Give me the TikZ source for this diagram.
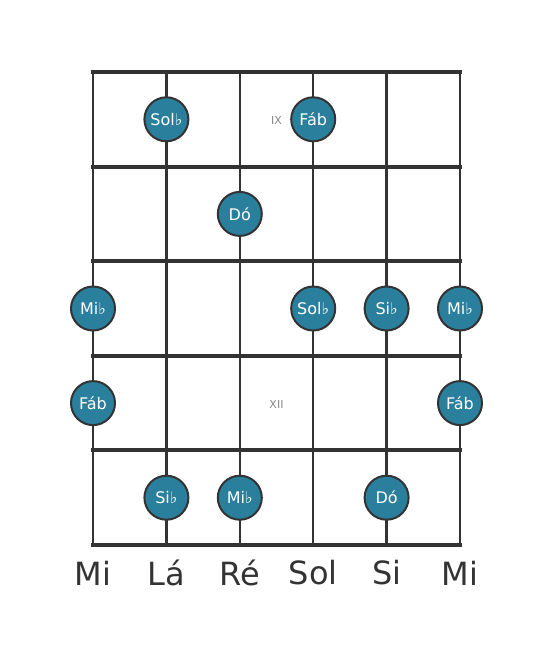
\documentclass[tikz,border=0pt]{standalone}
\usepackage{fontspec}
\setmainfont{DejaVu Sans}
\usepackage{xcolor}
\usetikzlibrary{positioning}
\definecolor{notefill}{HTML}{2A7F9C}
\definecolor{gridgray}{HTML}{333333}
\definecolor{markgray}{HTML}{888888}
\tikzset{
  note/.style={circle,fill=notefill,draw=gridgray,line width=2pt,minimum size=44pt,inner sep=0pt,
    text=white,font=\fontsize{16pt}{18pt}\selectfont},
  fretmark/.style={text=markgray,font=\fontsize{11pt}{13pt}\selectfont},
  strname/.style={text=gridgray,font=\fontsize{32pt}{36pt}\selectfont}
}
\begin{document}
\begin{tikzpicture}[x=1pt,y=-1pt]
  \useasboundingbox (0,0) rectangle (553,656);
  % strings
  \foreach \s in {0,...,5}{
    \draw[gridgray,line width=2.5pt] (93+\s*73.4,72) -- (93+\s*73.4,545);
  }
  % frets
  \foreach \f in {0,...,5}{
    \draw[gridgray,line width=4pt] (91,72+\f*94.6) -- (462,72+\f*94.6);
  }
  % fret markers
  \node[fretmark] (markIX) at (276.5,120) {IX};
  \node[fretmark] (markXII) at (276.5,404) {XII};
  % notes
  \node[note] (solb1) at (166.4,119.3) {Sol♭};
  \node[note] (fab1) at (313.2,119.3) {Fáb};
  \node[note] (do1) at (239.8,213.9) {Dó};
  \node[note] (mib1) at (93,308.5) {Mi♭};
  \node[note] (solb2) at (313.2,308.5) {Sol♭};
  \node[note] (sib1) at (386.6,308.5) {Si♭};
  \node[note] (mib2) at (460,308.5) {Mi♭};
  \node[note] (fab2) at (93,403.1) {Fáb};
  \node[note] (fab3) at (460,403.1) {Fáb};
  \node[note] (sib2) at (166.4,497.7) {Si♭};
  \node[note] (mib3) at (239.8,497.7) {Mi♭};
  \node[note] (do2) at (386.6,497.7) {Dó};
  % string names
  \foreach \n/\t [count=\i from 0] in {mi/Mi,la/Lá,re/Ré,sol/Sol,si/Si,mitop/Mi}{
    \node[strname] (name\n) at (93+\i*73.4,573) {\t};
  }
\end{tikzpicture}
\end{document}
